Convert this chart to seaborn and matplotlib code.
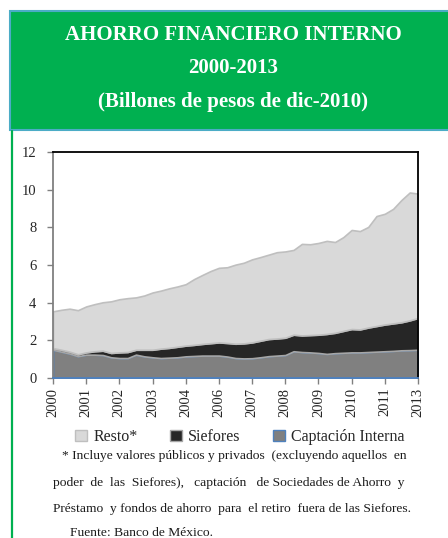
import matplotlib
matplotlib.use("Agg")
import matplotlib.pyplot as plt
import numpy as np
import seaborn as sns
from matplotlib.patches import Rectangle, Patch
from matplotlib.lines import Line2D


# valores (billones de pesos), ~trimestral
captacion = [1.50, 1.40, 1.30, 1.16, 1.24, 1.24, 1.22, 1.10, 1.06, 1.06,
             1.24, 1.15, 1.10, 1.06, 1.08, 1.10, 1.15, 1.17, 1.19, 1.19,
             1.19, 1.14, 1.06, 1.04, 1.05, 1.10, 1.16, 1.19, 1.22, 1.42,
             1.38, 1.36, 1.33, 1.28, 1.32, 1.34, 1.36, 1.36, 1.38, 1.40,
             1.42, 1.44, 1.47, 1.48, 1.50]
siefores = [0.09, 0.10, 0.10, 0.10, 0.12, 0.18, 0.23, 0.23, 0.30, 0.32,
            0.26, 0.35, 0.40, 0.50, 0.52, 0.56, 0.57, 0.59, 0.62, 0.66,
            0.70, 0.72, 0.76, 0.80, 0.84, 0.88, 0.91, 0.91, 0.92, 0.88,
            0.88, 0.92, 0.97, 1.06, 1.08, 1.16, 1.24, 1.22, 1.30, 1.36,
            1.42, 1.46, 1.49, 1.58, 1.69]
resto = [1.95, 2.12, 2.28, 2.34, 2.44, 2.50, 2.57, 2.74, 2.82, 2.86,
         2.78, 2.88, 3.04, 3.08, 3.16, 3.20, 3.26, 3.49, 3.66, 3.83,
         3.96, 4.02, 4.20, 4.28, 4.41, 4.44, 4.48, 4.58, 4.58, 4.50,
         4.86, 4.82, 4.87, 4.94, 4.82, 4.98, 5.26, 5.22, 5.34, 5.84,
         5.88, 6.08, 6.49, 6.79, 6.60]
tick_labels = ["2000", "2001", "2002", "2003", "2004", "2006",
               "2007", "2008", "2009", "2010", "2011", "2013"]
y_ticks = [0, 2, 4, 6, 8, 10, 12]

GREEN = "#00B050"
TEAL = "#4BACC6"
BLUE = "#4F81BD"
fills = ["#808080", "#262626", "#D9D9D9"]
edges = [BLUE, "#A6A6A6", "#BFBFBF"]

sns.set_theme(style="white")
plt.rcParams["font.family"] = ["Liberation Serif", "DejaVu Serif"]

fig = plt.figure(figsize=(4.48, 5.38), dpi=100)

# recuadro del titulo
fig.patches.append(Rectangle((10 / 448, 1 - 130 / 538), 1, 119 / 538,
                             transform=fig.transFigure, facecolor=GREEN,
                             edgecolor=TEAL, linewidth=1.5, zorder=0))
fig.add_artist(Line2D([12 / 448, 12 / 448], [0, 1 - 131 / 538],
                      transform=fig.transFigure, color=GREEN, linewidth=1.6))

for txt, ypx in [("AHORRO FINANCIERO INTERNO", 35),
                 ("2000-2013", 68),
                 ("(Billones de pesos de dic-2010)", 102)]:
    fig.text(233 / 448, 1 - ypx / 538, txt, ha="center", va="center",
             color="white", fontsize=15, fontweight="bold")

ax = fig.add_axes([53 / 448, 1 - 378 / 538, 365 / 448, 226 / 538])
x = np.arange(len(captacion))
polys = ax.stackplot(x, captacion, siefores, resto, colors=fills, linewidth=1.2)
for poly, ec in zip(polys, edges):
    poly.set_edgecolor(ec)

ax.set_xlim(x[0], x[-1])
ax.set_ylim(0, 12)
ax.set_yticks(y_ticks)
ax.set_yticklabels([str(v) for v in y_ticks])
ax.set_xticks(np.linspace(x[0], x[-1], len(tick_labels)))
ax.set_xticklabels(tick_labels, rotation=90)
ax.tick_params(axis="both", which="both", direction="out", length=4,
               width=1, color="#808080", labelsize=10.5, pad=3,
               left=True, bottom=True)
ax.tick_params(axis="y", pad=8)
for side in ["top", "right"]:
    ax.spines[side].set_color("black")
    ax.spines[side].set_linewidth(1.3)
ax.spines["left"].set_color("#808080")
ax.spines["left"].set_linewidth(1.3)
ax.spines["bottom"].set_color(BLUE)
ax.spines["bottom"].set_linewidth(1.3)
ax.grid(False)

handles = [Patch(facecolor=f, edgecolor=e, label=l) for f, e, l in
           zip(fills[::-1], edges[::-1], ["Resto*", "Siefores", "Captación Interna"])]
fig.legend(handles=handles, loc="center", bbox_to_anchor=(240 / 448, 1 - 437 / 538),
           ncol=3, frameon=False, fontsize=11.5, handlelength=0.75, handleheight=0.75,
           handletextpad=0.4, columnspacing=2.0)

notes = [("* Incluye valores públicos y privados  (excluyendo aquellos  en", 62, 456),
         ("poder  de  las  Siefores),   captación   de Sociedades de Ahorro  y", 53, 483),
         ("Préstamo  y fondos de ahorro  para  el retiro  fuera de las Siefores.", 53, 509),
         ("Fuente: Banco de México.", 70, 533)]
for txt, xpx, ypx in notes:
    fig.text(xpx / 448, 1 - ypx / 538, txt, ha="left", va="center",
             fontsize=9.7, color="#1a1a1a")

fig.savefig("out.png", dpi=100)
